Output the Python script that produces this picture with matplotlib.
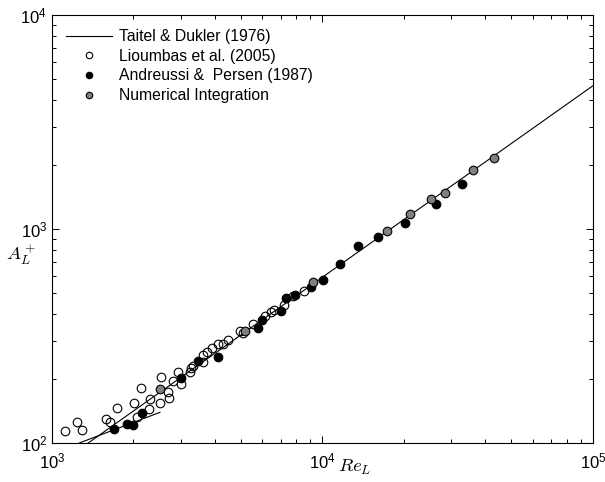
import numpy as np
import matplotlib
matplotlib.use("Agg")
import matplotlib.pyplot as plt

plt.rcParams['font.family'] = ['Liberation Sans', 'DejaVu Sans']

# Taitel & Dukler (1976) curve, turbulent and laminar branches (end points)
td_re = [1362, 1e5]
td_al = [100, 4667]
lam_re = [1262, 2507]
lam_al = [100, 139]

# Lioumbas et al. (2005)
lio_re = [1114, 1234, 1294, 1579, 1638, 1743, 2010, 2128, 2303, 2289, 2067, 2507,
          2536, 2692, 2714, 2794, 2931, 2991, 3265, 3237, 3330, 3607, 3625, 3731,
          3905, 4095, 4302, 4463, 4955, 5070, 5521, 6131, 6435, 6618, 7205, 7760, 8543]
lio_al = [113.4, 125.8, 115.0, 129.4, 125.4, 146.2, 153.8, 180.7, 161.1, 144.7, 131.9, 154.3,
          202.8, 173.6, 162.8, 194.9, 214.0, 188.1, 223.4, 214.0, 229.0, 257.8, 238.3, 266.2,
          277.0, 288.6, 291.4, 304.2, 332.7, 325.6, 359.8, 392.2, 410.8, 419.7, 441.5, 486.3, 514.9]

# Andreussi & Persen (1987)
ap_re = [1695, 1894, 1992, 2146, 2999, 3475, 4119, 5790, 5991, 7024, 7330, 7914,
         9107, 10069, 11605, 13530, 16080, 20220, 26390, 32700]
ap_al = [115.9, 123.1, 121.8, 137.6, 201.9, 241.6, 250.8, 345.8, 375.6, 413.9, 474.5, 493.2,
         532.9, 577.9, 684, 833, 920, 1061, 1305, 1623]

# Numerical integration
num_re = [2501, 5157, 9247, 17275, 21060, 25290, 28300, 35920, 43160]
num_al = [178.2, 334.8, 563.6, 980.7, 1179, 1381, 1478, 1887, 2154]

fig = plt.figure(figsize=(6.05, 4.82), dpi=100)
ax = fig.add_axes([0.086, 0.081, 0.894, 0.888])

ax.plot(td_re, td_al, color='k', lw=0.8, label='Taitel & Dukler (1976)', zorder=2)
ax.plot(lam_re, lam_al, color='k', lw=0.8, zorder=2)
ax.plot(lio_re, lio_al, 'o', mfc='none', mec='k', mew=0.8, ms=6.2,
        label='Lioumbas et al. (2005)', zorder=3)
ax.plot(ap_re, ap_al, 'o', mfc='k', mec='k', mew=0.8, ms=6.2,
        label='Andreussi &  Persen (1987)', zorder=4)
ax.plot(num_re, num_al, 'o', mfc='#808080', mec='k', mew=0.8, ms=6.2,
        label='Numerical Integration', zorder=5)

ax.set_xscale('log')
ax.set_yscale('log')
ax.set_xlim(1e3, 1e5)
ax.set_ylim(1e2, 1e4)

ax.tick_params(which='both', direction='in', top=True, right=True, labelsize=12)
ax.tick_params(which='major', length=5, width=0.7)
ax.tick_params(which='minor', length=3, width=0.7)
ax.tick_params(axis='x', which='major', pad=6.5)
for s in ax.spines.values():
    s.set_linewidth(0.8)

ax.set_xlabel(r'$Re_L$', fontsize=13.5, math_fontfamily='cm')
ax.xaxis.set_label_coords(0.56, -0.034)
ax.set_ylabel(r'$A_L^+$', fontsize=13.5, math_fontfamily='cm', rotation=0,
              ha='center', va='center')
ax.yaxis.set_label_coords(-0.057, 0.44)

ax.legend(loc='upper left', frameon=False, fontsize=11.3, handlelength=2.9,
          markerscale=0.75, labelspacing=0.3, borderaxespad=0.5, handletextpad=0.45)

fig.savefig('out.png', dpi=100)
